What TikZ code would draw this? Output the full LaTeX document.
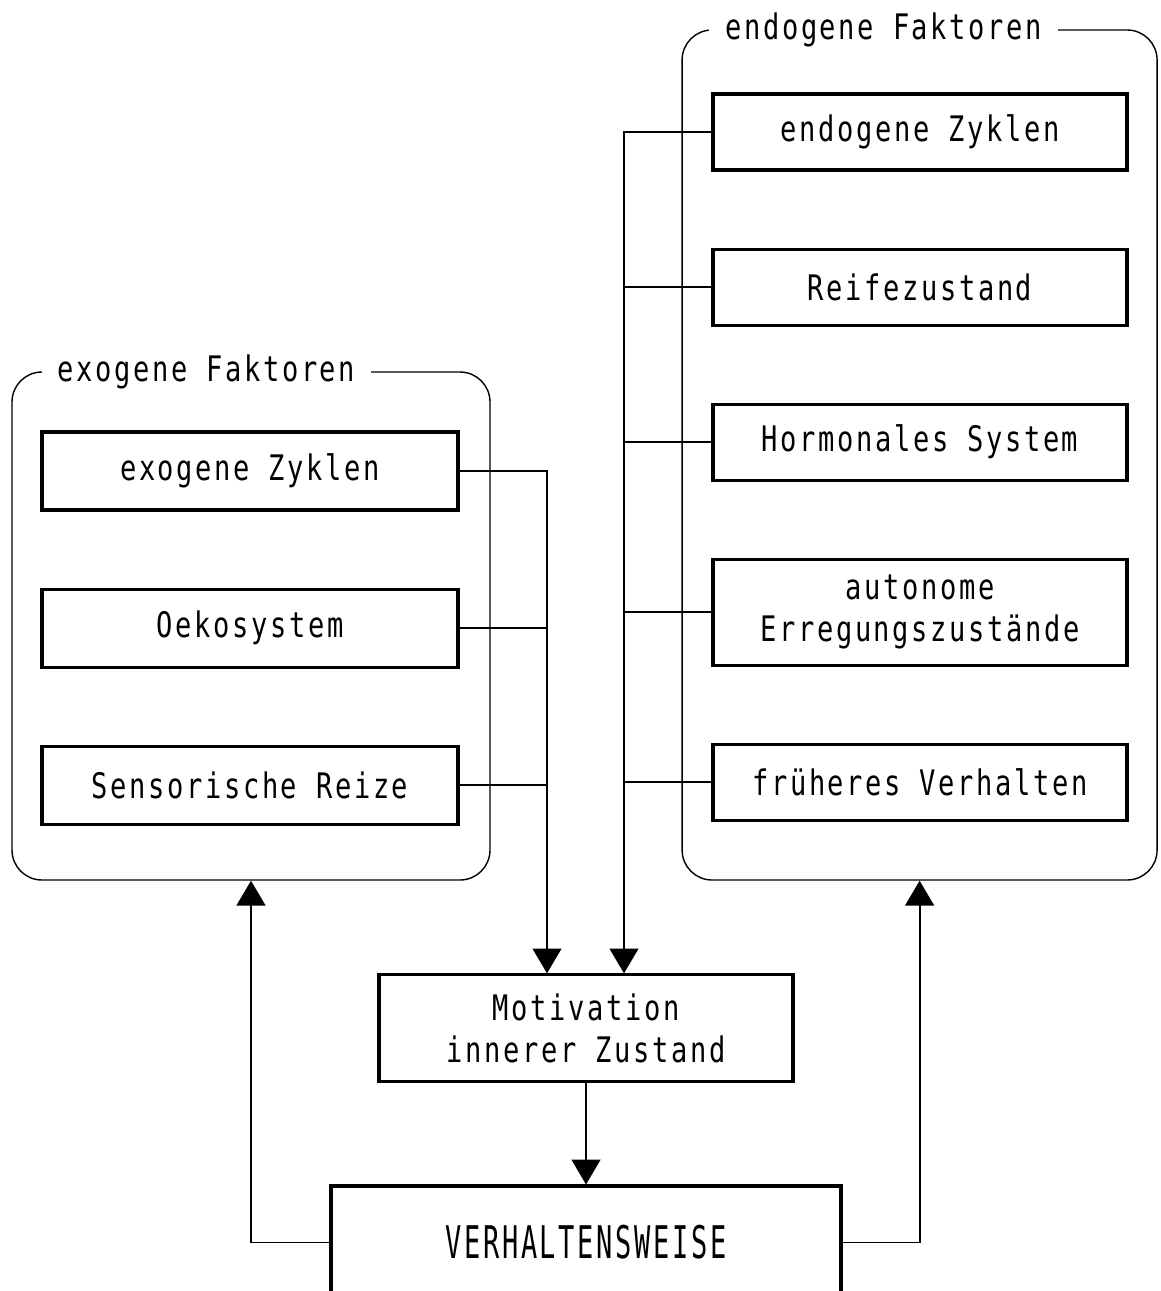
\documentclass[tikz,border=0pt]{standalone}
\usepackage{fontspec}
\newfontfamily\plotfont[FakeStretch=0.77,LetterSpace=7.5]{DejaVu Sans Mono}
\newfontfamily\plotwide[FakeStretch=0.6,LetterSpace=6]{DejaVu Sans Mono}
\usetikzlibrary{arrows.meta,positioning}
\tikzset{
  >={Triangle[length=6.2mm,width=7.2mm]},
  box/.style={draw,line width=2.2pt,minimum width=104mm,minimum height=19mm,inner sep=0pt,align=center,font=\plotfont\fontsize{25}{30}\selectfont},
  grp/.style={draw,line width=1pt,rounded corners=7.5mm,inner sep=0pt},
  glab/.style={fill=white,inner xsep=4mm,inner ysep=1mm,font=\plotfont\fontsize{25}{30}\selectfont},
  conn/.style={line width=1.3pt},
  arr/.style={conn,->},
}
\begin{document}
\begin{tikzpicture}[node distance=19mm]
\useasboundingbox (0,0) rectangle (29,-32.275);
% Gruppen
\node[grp,minimum width=119.5mm,minimum height=127mm] (exo) at (6.275,-15.65) {};
\node[grp,minimum width=118.75mm,minimum height=212.5mm] (endo) at (22.99,-11.375) {};
\node[glab] (exolab) at (5.16,-9.3) {exogene Faktoren};
\node[glab] (endolab) at (22.09,-0.75) {endogene Faktoren};
% exogen
\node[box,minimum height=19.5mm] (exzyk) at (6.25,-11.775) {exogene Zyklen};
\node[box,minimum height=19.5mm,below=of exzyk] (oeko) {Oekosystem};
\node[box,minimum height=19.5mm,below=of oeko] (sens) {Sensorische Reize};
% endogen
\node[box,minimum width=103.5mm] (enzyk) at (23,-3.3) {endogene Zyklen};
\node[box,minimum width=103.5mm,below=of enzyk] (reife) {Reifezustand};
\node[box,minimum width=103.5mm,below=of reife] (horm) {Hormonales System};
\node[box,minimum width=103.5mm,minimum height=26.5mm,below=of horm] (auto) {autonome\\Erregungszustände};
\node[box,minimum width=103.5mm,below=of auto] (frueh) {früheres Verhalten};
% Mitte
\node[box,minimum width=103.5mm,minimum height=26.75mm] (mot) at (14.65,-25.71) {Motivation\\innerer Zustand};
\node[box,minimum width=127.5mm,minimum height=28.25mm,below=25.25mm of mot,font=\plotwide\fontsize{32}{36}\selectfont] (verh) {VERHALTENSWEISE};
\coordinate (exbus) at (13.675,0);
\coordinate (enbus) at (15.6,0);
\draw[arr] (exzyk.east) -| (mot.north -| exbus);
\draw[conn] (oeko.east) -- (oeko.east -| exbus);
\draw[conn] (sens.east) -- (sens.east -| exbus);
\draw[arr] (enzyk.west) -| (mot.north -| enbus);
\foreach \n in {reife,horm,auto,frueh}
  \draw[conn] (\n.west) -- (\n.west -| enbus);
\draw[arr] (mot.south) -- (verh.north);
\draw[arr] (verh.west) -| (exo.south);
\draw[arr] (verh.east) -| (endo.south);
\end{tikzpicture}
\end{document}
